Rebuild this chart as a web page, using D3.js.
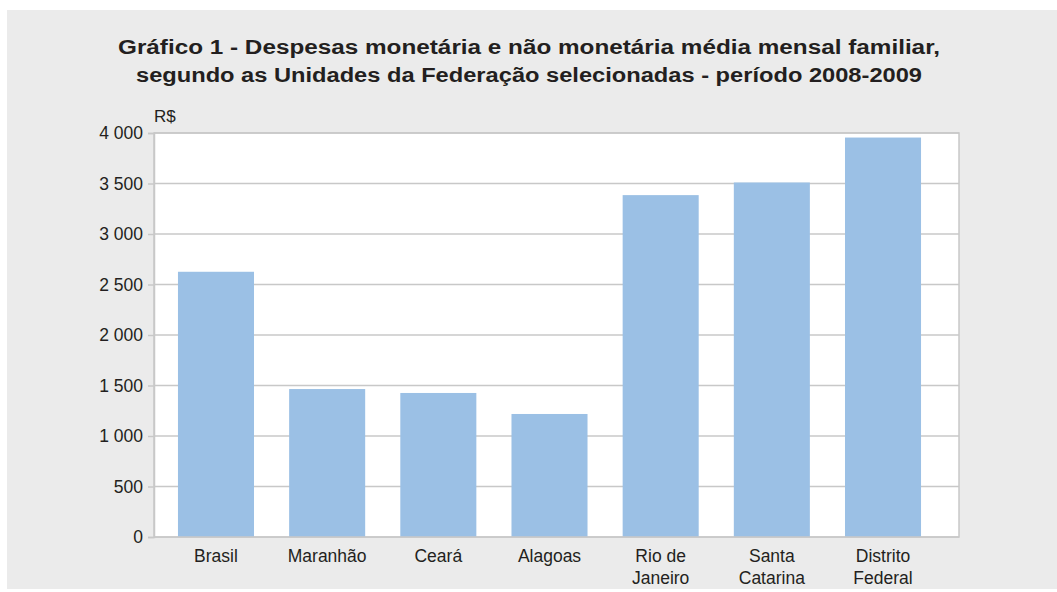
<!DOCTYPE html>
<html>
<head>
<meta charset="utf-8">
<script src="https://cdn.jsdelivr.net/npm/d3@7"></script>
<style>
  body { margin: 0; background: #fff; }
  text { font-family: "Liberation Sans", Arial, sans-serif; fill: #231f20; }
</style>
</head>
<body>
<script>
var categories = [["Brasil"], ["Maranhão"], ["Ceará"], ["Alagoas"], ["Rio de", "Janeiro"], ["Santa", "Catarina"], ["Distrito", "Federal"]];
var values = [2626, 1465, 1426, 1218, 3385, 3510, 3955];
var yTicks = [0, 500, 1000, 1500, 2000, 2500, 3000, 3500, 4000];
var titleLines = ["Gráfico 1 - Despesas monetária e não monetária média mensal familiar,",
                  "segundo as Unidades da Federação selecionadas - período 2008-2009"];

function main(){
	var w = 1057;
	var h = 592;

	var svg = d3.select("body")
				.append("svg")
				.attr("width", w)
				.attr("height", h);

	svg.append("rect")
		.attr("x", 7)
		.attr("y", 10)
		.attr("width", w - 7)
		.attr("height", 579)
		.attr("fill", "#ebebeb");

	var left = 154, right = 959, top = 133, bottom = 537;

	var y = d3.scaleLinear().domain([0, 4000]).range([bottom, top]);
	var x = d3.scaleBand()
				.domain(d3.range(categories.length))
				.range([160.4, 938.6])
				.paddingInner(0.316)
				.paddingOuter(0.158);

	svg.append("rect")
		.attr("x", left)
		.attr("y", top)
		.attr("width", right - left)
		.attr("height", bottom - top)
		.attr("fill", "#fff")
		.attr("stroke", "#c8c8c8")
		.attr("stroke-width", 1.5);

	// grid lines
	svg.selectAll(".grid")
		.data(yTicks.slice(1))
		.enter()
		.append("line")
		.attr("x1", left)
		.attr("x2", right)
		.attr("y1", function(d){ return y(d); })
		.attr("y2", function(d){ return y(d); })
		.attr("stroke", "#c8c8c8")
		.attr("stroke-width", 1.5);

	// bars
	svg.selectAll(".bar")
		.data(values)
		.enter()
		.append("rect")
		.attr("x", function(d, i){ return x(i); })
		.attr("y", function(d){ return y(d); })
		.attr("width", x.bandwidth())
		.attr("height", function(d){ return bottom - y(d); })
		.attr("fill", "#9bc0e5");

	// y axis
	var yAxis = svg.append("g")
		.attr("transform", "translate(" + left + ",0)")
		.call(d3.axisLeft(y)
			.tickValues(yTicks)
			.tickSize(6)
			.tickPadding(5)
			.tickFormat(function(d){ return d3.format(",")(d).replace(",", " "); }));
	yAxis.select(".domain").attr("stroke", "#c8c8c8").attr("stroke-width", 1.5);
	yAxis.selectAll(".tick line").attr("stroke", "#c8c8c8").attr("stroke-width", 1.5);
	yAxis.selectAll(".tick text")
		.attr("font-size", 17.5)
		.attr("font-family", "Liberation Sans, Arial, sans-serif")
		.attr("fill", "#231f20");

	svg.append("line")
		.attr("x1", left)
		.attr("x2", right)
		.attr("y1", bottom)
		.attr("y2", bottom)
		.attr("stroke", "#c8c8c8")
		.attr("stroke-width", 1.5);

	// category labels
	var labels = svg.selectAll(".cat")
		.data(categories)
		.enter()
		.append("text")
		.attr("text-anchor", "middle")
		.attr("font-size", 17.5)
		.attr("x", function(d, i){ return x(i) + x.bandwidth() / 2; })
		.attr("y", 562);
	labels.selectAll("tspan")
		.data(function(d){ return d; })
		.enter()
		.append("tspan")
		.attr("x", function(){ return d3.select(this.parentNode).attr("x"); })
		.attr("dy", function(d, i){ return i ? 22 : 0; })
		.text(function(d){ return d; });

	svg.append("text")
		.text("R$")
		.attr("x", 154)
		.attr("y", 122)
		.attr("font-size", 17);

	// title
	svg.selectAll(".title")
		.data(titleLines)
		.enter()
		.append("text")
		.attr("text-anchor", "middle")
		.attr("font-weight", "bold")
		.attr("font-size", 20)
		.attr("x", 529)
		.attr("y", function(d, i){ return 54 + i * 28; })
		.attr("textLength", function(d, i){ return i ? 786 : 822; })
		.attr("lengthAdjust", "spacingAndGlyphs")
		.text(function(d){ return d; });
}

main();
</script>
</body>
</html>
